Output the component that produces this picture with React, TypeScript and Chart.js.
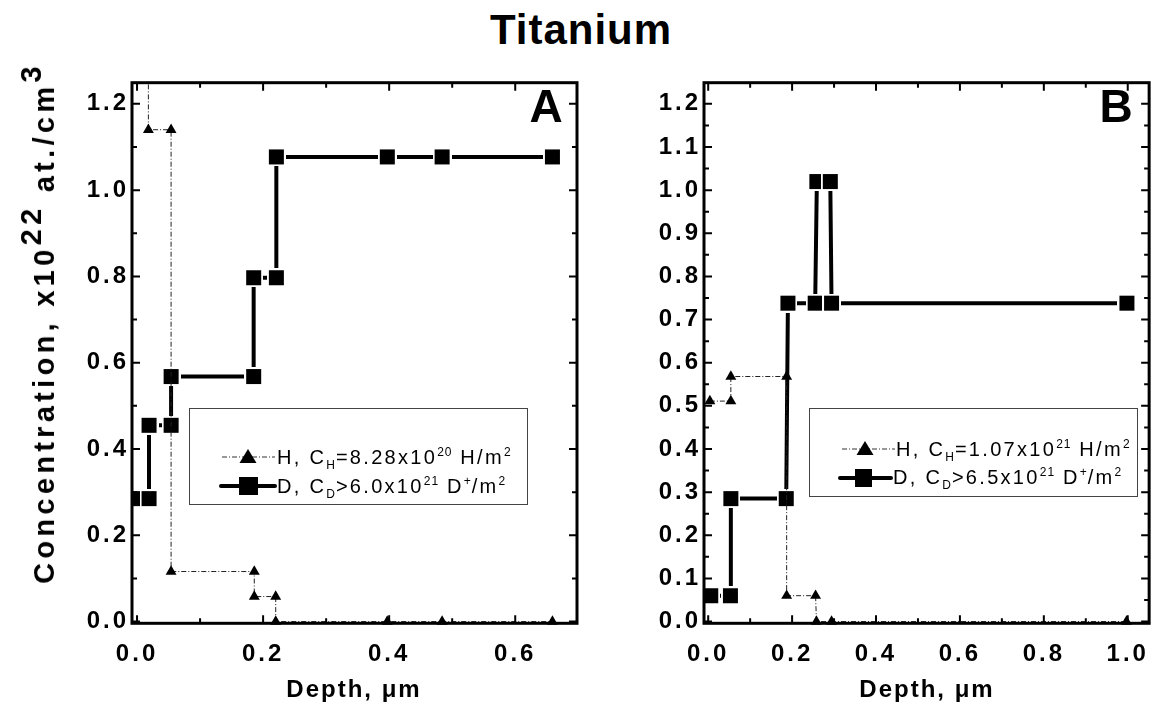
import React, { useEffect, useRef } from 'react';
import { Chart, registerables } from 'chart.js';

Chart.register(...registerables);

const FONT = "'Liberation Sans', Arial, Helvetica, sans-serif";

// Panel A data
const depthA_H = [0.018, 0.018, 0.054, 0.054, 0.186, 0.186, 0.22, 0.22, 0.397, 0.484, 0.659];
const concA_H = [1.5, 1.14, 1.14, 0.116, 0.116, 0.058, 0.058, 0, 0, 0, 0];
const depthA_D = [0.005, 0.019, 0.019, 0.054, 0.054, 0.185, 0.185, 0.221, 0.221, 0.397, 0.484, 0.659];
const concA_D = [0.285, 0.285, 0.455, 0.455, 0.568, 0.568, 0.797, 0.797, 1.077, 1.077, 1.077, 1.077];

// Panel B data
const depthB_H = [0.004, 0.054, 0.054, 0.187, 0.187, 0.256, 0.258, 0.294, 0.997];
const concB_H = [0.511, 0.511, 0.568, 0.568, 0.06, 0.06, 0, 0, 0];
const depthB_D = [0.006, 0.053, 0.054, 0.186, 0.19, 0.255, 0.259, 0.291, 0.294, 0.998];
const concB_D = [0.06, 0.06, 0.285, 0.285, 0.738, 0.738, 1.02, 1.02, 0.738, 0.738];

// Tick labels
const xTicksA = [0, 0.2, 0.4, 0.6];
const xMinorA = [0.1, 0.3, 0.5];
const yTicksA = [0, 0.2, 0.4, 0.6, 0.8, 1.0, 1.2];
const yMinorA = [0.1, 0.3, 0.5, 0.7, 0.9, 1.1];
const xTicksB = [0, 0.2, 0.4, 0.6, 0.8, 1.0];
const xMinorB = [0.1, 0.3, 0.5, 0.7, 0.9];
const yTicksB = [0, 0.1, 0.2, 0.3, 0.4, 0.5, 0.6, 0.7, 0.8, 0.9, 1.0, 1.1, 1.2];
const yMinorB = [0.05, 0.15, 0.25, 0.35, 0.45, 0.55, 0.65, 0.75, 0.85, 0.95, 1.05, 1.15];

function makeSquare(): HTMLCanvasElement {
  const c = document.createElement('canvas');
  c.width = 19;
  c.height = 19;
  const g = c.getContext('2d')!;
  g.fillStyle = '#fff';
  g.fillRect(0, 0, 19, 19);
  g.fillStyle = '#000';
  g.fillRect(2, 2, 15, 15);
  return c;
}

type PanelCfg = {
  hx: number[]; hy: number[]; dx: number[]; dy: number[];
  xTicks: number[]; xMinor: number[]; yTicks: number[]; yMinor: number[];
  xMin: number; xMax: number; yMin: number; yMax: number;
  yAxisWidth: number; xAxisHeight: number; padRight: number; padTop: number;
};

function buildConfig(p: PanelCfg, square: HTMLCanvasElement): any {
  const framePlugin = {
    id: 'frameTicks',
    beforeDraw(chart: any) {
      (chart.ctx as any).letterSpacing = '3px';
    },
    afterDraw(chart: any) {
      const ctx = chart.ctx;
      const a = chart.chartArea;
      const sx = chart.scales.x;
      const sy = chart.scales.y;
      ctx.save();
      (ctx as any).letterSpacing = '0px';
      ctx.strokeStyle = '#000';
      ctx.lineWidth = 2;
      const xt = (vals: number[], len: number) => {
        vals.forEach((v) => {
          const px = sx.getPixelForValue(v);
          ctx.beginPath();
          ctx.moveTo(px, a.bottom);
          ctx.lineTo(px, a.bottom - len);
          ctx.moveTo(px, a.top);
          ctx.lineTo(px, a.top + len);
          ctx.stroke();
        });
      };
      const yt = (vals: number[], len: number) => {
        vals.forEach((v) => {
          const py = sy.getPixelForValue(v);
          ctx.beginPath();
          ctx.moveTo(a.left, py);
          ctx.lineTo(a.left + len, py);
          ctx.moveTo(a.right, py);
          ctx.lineTo(a.right - len, py);
          ctx.stroke();
        });
      };
      xt(p.xTicks, 8);
      xt(p.xMinor, 5);
      yt(p.yTicks, 8);
      yt(p.yMinor, 5);
      ctx.lineWidth = 3;
      ctx.strokeRect(a.left, a.top, a.right - a.left, a.bottom - a.top);
      ctx.restore();
    },
  };

  const clip = { left: 12, right: 12, top: 0, bottom: 12 };

  return {
    type: 'scatter',
    data: {
      datasets: [
        {
          label: 'H',
          data: p.hx.map((x, i) => ({ x, y: p.hy[i] })),
          showLine: true,
          clip,
          borderColor: '#222',
          borderWidth: 1,
          borderDash: [5, 2, 1, 2],
          pointStyle: 'triangle',
          pointRadius: 6.3,
          pointBackgroundColor: '#000',
          pointBorderColor: '#000',
          pointBorderWidth: 0,
          tension: 0,
        },
        {
          label: 'D',
          data: p.dx.map((x, i) => ({ x, y: p.dy[i] })),
          showLine: true,
          clip,
          borderColor: '#000',
          borderWidth: 4,
          borderCapStyle: 'round',
          pointStyle: square,
          pointRadius: 8,
          tension: 0,
        },
      ],
    },
    options: {
      responsive: false,
      animation: false,
      events: [],
      layout: { padding: { left: 0, right: p.padRight, top: p.padTop, bottom: 0 } },
      plugins: { legend: { display: false }, tooltip: { enabled: false }, title: { display: false } },
      scales: {
        x: {
          type: 'linear',
          min: p.xMin,
          max: p.xMax,
          afterBuildTicks: (s: any) => {
            s.ticks = p.xTicks.map((v) => ({ value: v }));
          },
          afterFit: (s: any) => {
            s.height = p.xAxisHeight;
          },
          grid: { display: false, drawTicks: false },
          border: { display: false },
          ticks: {
            color: '#000',
            autoSkip: false,
            maxRotation: 0,
            padding: 17,
            font: { family: FONT, size: 24, weight: 'bold' },
            callback: (v: any) => Number(v).toFixed(1),
          },
        },
        y: {
          type: 'linear',
          min: p.yMin,
          max: p.yMax,
          afterBuildTicks: (s: any) => {
            s.ticks = p.yTicks.map((v) => ({ value: v }));
          },
          afterFit: (s: any) => {
            s.width = p.yAxisWidth;
          },
          grid: { display: false, drawTicks: false },
          border: { display: false },
          ticks: {
            color: '#000',
            autoSkip: false,
            padding: 3,
            font: { family: FONT, size: 24, weight: 'bold' },
            callback: (v: any) => Number(v).toFixed(1),
          },
        },
      },
    },
    plugins: [framePlugin],
  };
}

const abs = (o: React.CSSProperties): React.CSSProperties => ({ position: 'absolute', ...o });
const sub: React.CSSProperties = { fontSize: 12, position: 'relative', top: 5, letterSpacing: 1 };
const sup: React.CSSProperties = { fontSize: 12, position: 'relative', top: -8, letterSpacing: 1 };

export default function App() {
  const refA = useRef<HTMLCanvasElement>(null);
  const refB = useRef<HTMLCanvasElement>(null);

  useEffect(() => {
    const sq = makeSquare();
    const ca = new Chart(
      refA.current!,
      buildConfig(
        {
          hx: depthA_H, hy: concA_H, dx: depthA_D, dy: concA_D,
          xTicks: xTicksA, xMinor: xMinorA, yTicks: yTicksA, yMinor: yMinorA,
          xMin: -0.008, xMax: 0.698, yMin: -0.004, yMax: 1.249,
          yAxisWidth: 132, xAxisHeight: 87.7, padRight: 13, padTop: 22.7,
        },
        sq
      )
    );
    const cb = new Chart(
      refB.current!,
      buildConfig(
        {
          hx: depthB_H, hy: concB_H, dx: depthB_D, dy: concB_D,
          xTicks: xTicksB, xMinor: xMinorB, yTicks: yTicksB, yMinor: yMinorB,
          xMin: -0.01, xMax: 1.051, yMin: -0.004, yMax: 1.249,
          yAxisWidth: 114, xAxisHeight: 87.7, padRight: 12, padTop: 22.7,
        },
        sq
      )
    );
    return () => {
      ca.destroy();
      cb.destroy();
    };
  }, []);

  const legendText: React.CSSProperties = {
    fontFamily: FONT,
    fontSize: 20,
    lineHeight: '20px',
    letterSpacing: 2.3,
    whiteSpace: 'nowrap',
    color: '#000',
  };
  const xTitle: React.CSSProperties = {
    fontFamily: FONT,
    fontSize: 24,
    fontWeight: 'bold',
    letterSpacing: 2,
    whiteSpace: 'nowrap',
    transform: 'translate(-50%, -50%)',
    lineHeight: '30px',
  };

  return (
    <div style={{ position: 'fixed', left: 0, top: 0, width: 1162, height: 711, background: '#fff', overflow: 'hidden' }}>
      <div
        style={abs({
          left: 581,
          top: 30,
          transform: 'translate(-50%, -50%)',
          fontFamily: FONT,
          fontSize: 42,
          fontWeight: 'bold',
          letterSpacing: 1,
          whiteSpace: 'nowrap',
          lineHeight: '48px',
        })}
      >
        Titanium
      </div>

      <canvas ref={refA} width={590} height={651} style={abs({ left: 0, top: 60, width: 590, height: 651 })} />
      <canvas ref={refB} width={572} height={651} style={abs({ left: 590, top: 60, width: 572, height: 651 })} />

      <div
        style={abs({
          left: 44,
          top: 323,
          transform: 'translate(-50%, -50%) rotate(-90deg)',
          fontFamily: FONT,
          fontSize: 29,
          fontWeight: 'bold',
          letterSpacing: 4.3,
          whiteSpace: 'nowrap',
          lineHeight: '32px',
        })}
      >
        Concentration, x10<span style={{ position: 'relative', top: -13 }}>22</span> at./cm
        <span style={{ position: 'relative', top: -13 }}>3</span>
      </div>

      <div style={abs({ left: 354, top: 689, ...xTitle })}>Depth, μm</div>
      <div style={abs({ left: 927, top: 689, ...xTitle })}>Depth, μm</div>

      <div style={abs({ left: 546, top: 106, transform: 'translate(-50%, -50%)', fontFamily: FONT, fontSize: 46, fontWeight: 'bold', lineHeight: '50px' })}>A</div>
      <div style={abs({ left: 1116, top: 106, transform: 'translate(-50%, -50%)', fontFamily: FONT, fontSize: 46, fontWeight: 'bold', lineHeight: '50px' })}>B</div>

      {/* Legend A */}
      <div style={abs({ left: 189, top: 408, width: 339, height: 97, border: '1.5px solid #444', boxSizing: 'border-box', background: '#fff' })} />
      {/* Legend B */}
      <div style={abs({ left: 809, top: 408, width: 329, height: 89, border: '1.5px solid #444', boxSizing: 'border-box', background: '#fff' })} />

      <svg width={1162} height={711} style={abs({ left: 0, top: 0, pointerEvents: 'none' })}>
        {/* A: H sample */}
        <line x1={222} y1={457} x2={275} y2={457} stroke="#333" strokeWidth={1} strokeDasharray="5 2 1 2" />
        <polygon points="248,449 256.5,463 239.5,463" fill="#000" />
        {/* A: D sample */}
        <line x1={221} y1={486} x2={275} y2={486} stroke="#000" strokeWidth={4} strokeLinecap="round" />
        <rect x={239} y={477} width={19} height={18} fill="#000" />
        {/* B: H sample */}
        <line x1={842} y1={449} x2={895} y2={449} stroke="#333" strokeWidth={1} strokeDasharray="5 2 1 2" />
        <polygon points="865,441 873.5,455 856.5,455" fill="#000" />
        {/* B: D sample */}
        <line x1={840} y1={478} x2={891} y2={478} stroke="#000" strokeWidth={4} strokeLinecap="round" />
        <rect x={855} y={469} width={17} height={18} fill="#000" />
      </svg>

      <div style={abs({ left: 277, top: 447, ...legendText })}>
        H, C<span style={sub}>H</span>=8.28x10<span style={sup}>20</span> H/m<span style={sup}>2</span>
      </div>
      <div style={abs({ left: 277, top: 476, ...legendText })}>
        D, C<span style={sub}>D</span>&gt;6.0x10<span style={sup}>21</span> D<span style={sup}>+</span>/m<span style={sup}>2</span>
      </div>
      <div style={abs({ left: 896, top: 439, ...legendText })}>
        H, C<span style={sub}>H</span>=1.07x10<span style={sup}>21</span> H/m<span style={sup}>2</span>
      </div>
      <div style={abs({ left: 893, top: 467, ...legendText })}>
        D, C<span style={sub}>D</span>&gt;6.5x10<span style={sup}>21</span> D<span style={sup}>+</span>/m<span style={sup}>2</span>
      </div>
    </div>
  );
}
